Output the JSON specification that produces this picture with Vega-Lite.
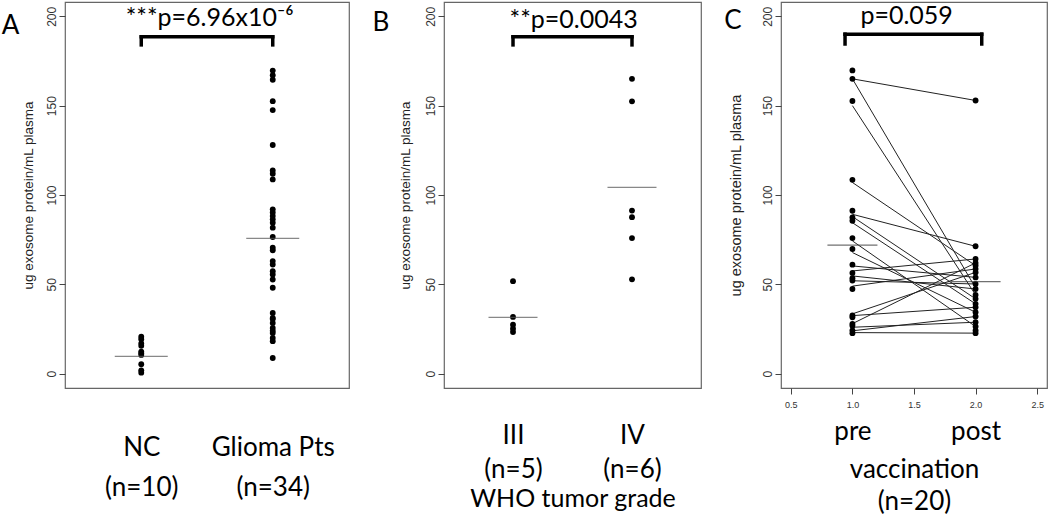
{
  "$schema": "https://vega.github.io/schema/vega-lite/v6.json",
  "background": "white",
  "padding": {"left": 1, "top": 1, "right": 2, "bottom": 0},
  "spacing": 21,
  "config": {
    "view": {"stroke": "#666", "strokeWidth": 1.2},
    "axis": {"grid": false, "domain": false, "labelFont": "Liberation Sans", "titleFont": "Liberation Sans", "labelColor": "#333", "titleColor": "#222", "tickColor": "#444", "titleFontWeight": "normal"},
    "axisY": {"labelAngle": -90, "labelAlign": "center", "labelBaseline": "bottom", "labelFontSize": 12, "tickSize": 6, "labelPadding": 1, "titleFontSize": 13.5}
  },
  "datasets": {
    "A_points": [
      {"group": "NC", "idx": 1, "value": 20.7}, {"group": "NC", "idx": 1, "value": 19.3}, {"group": "NC", "idx": 1, "value": 16.9}, {"group": "NC", "idx": 1, "value": 15.6}, {"group": "NC", "idx": 1, "value": 12.4},
      {"group": "NC", "idx": 1, "value": 11.5}, {"group": "NC", "idx": 1, "value": 10.5}, {"group": "NC", "idx": 1, "value": 5.3}, {"group": "NC", "idx": 1, "value": 1.9}, {"group": "NC", "idx": 1, "value": 0.6},
      {"group": "Glioma Pts", "idx": 2, "value": 169.6}, {"group": "Glioma Pts", "idx": 2, "value": 167.0}, {"group": "Glioma Pts", "idx": 2, "value": 164.5}, {"group": "Glioma Pts", "idx": 2, "value": 152.5},
      {"group": "Glioma Pts", "idx": 2, "value": 147.5}, {"group": "Glioma Pts", "idx": 2, "value": 128.0}, {"group": "Glioma Pts", "idx": 2, "value": 113.7}, {"group": "Glioma Pts", "idx": 2, "value": 111.9},
      {"group": "Glioma Pts", "idx": 2, "value": 108.7}, {"group": "Glioma Pts", "idx": 2, "value": 92.0}, {"group": "Glioma Pts", "idx": 2, "value": 90.2}, {"group": "Glioma Pts", "idx": 2, "value": 88.3},
      {"group": "Glioma Pts", "idx": 2, "value": 86.4}, {"group": "Glioma Pts", "idx": 2, "value": 84.5}, {"group": "Glioma Pts", "idx": 2, "value": 81.7}, {"group": "Glioma Pts", "idx": 2, "value": 76.5},
      {"group": "Glioma Pts", "idx": 2, "value": 70.5}, {"group": "Glioma Pts", "idx": 2, "value": 69.1}, {"group": "Glioma Pts", "idx": 2, "value": 63.0}, {"group": "Glioma Pts", "idx": 2, "value": 61.1},
      {"group": "Glioma Pts", "idx": 2, "value": 57.4}, {"group": "Glioma Pts", "idx": 2, "value": 55.5}, {"group": "Glioma Pts", "idx": 2, "value": 52.7}, {"group": "Glioma Pts", "idx": 2, "value": 48.1},
      {"group": "Glioma Pts", "idx": 2, "value": 34.0}, {"group": "Glioma Pts", "idx": 2, "value": 31.2}, {"group": "Glioma Pts", "idx": 2, "value": 30.6}, {"group": "Glioma Pts", "idx": 2, "value": 28.4},
      {"group": "Glioma Pts", "idx": 2, "value": 25.6}, {"group": "Glioma Pts", "idx": 2, "value": 24.0}, {"group": "Glioma Pts", "idx": 2, "value": 22.8}, {"group": "Glioma Pts", "idx": 2, "value": 20.0},
      {"group": "Glioma Pts", "idx": 2, "value": 18.2}, {"group": "Glioma Pts", "idx": 2, "value": 8.8}
    ],
    "A_means": [{"group": "NC", "idx": 1, "mean": 9.7}, {"group": "Glioma Pts", "idx": 2, "mean": 75.7}],
    "B_points": [
      {"grade": "III", "idx": 1, "value": 51.8}, {"grade": "III", "idx": 1, "value": 31.8}, {"grade": "III", "idx": 1, "value": 27.4}, {"grade": "III", "idx": 1, "value": 25.2}, {"grade": "III", "idx": 1, "value": 23.3},
      {"grade": "IV", "idx": 2, "value": 165.0}, {"grade": "IV", "idx": 2, "value": 152.4}, {"grade": "IV", "idx": 2, "value": 91.3}, {"grade": "IV", "idx": 2, "value": 87.6}, {"grade": "IV", "idx": 2, "value": 75.9}, {"grade": "IV", "idx": 2, "value": 52.8}
    ],
    "B_means": [{"grade": "III", "idx": 1, "mean": 31.5}, {"grade": "IV", "idx": 2, "mean": 104.3}],
    "C_points": [
      {"time": 1, "value": 169.7}, {"time": 1, "value": 165.0}, {"time": 1, "value": 152.6}, {"time": 1, "value": 108.5}, {"time": 1, "value": 91.2},
      {"time": 1, "value": 87.4}, {"time": 1, "value": 85.6}, {"time": 1, "value": 75.9}, {"time": 1, "value": 69.8}, {"time": 1, "value": 61.0},
      {"time": 1, "value": 56.4}, {"time": 1, "value": 53.4}, {"time": 1, "value": 52.1}, {"time": 1, "value": 47.4}, {"time": 1, "value": 32.6},
      {"time": 1, "value": 31.6}, {"time": 1, "value": 27.9}, {"time": 1, "value": 26.9}, {"time": 1, "value": 24.2}, {"time": 1, "value": 22.7},
      {"time": 2, "value": 152.9}, {"time": 2, "value": 71.3}, {"time": 2, "value": 64.2}, {"time": 2, "value": 62.0}, {"time": 2, "value": 60.5},
      {"time": 2, "value": 58.6}, {"time": 2, "value": 56.7}, {"time": 2, "value": 53.9}, {"time": 2, "value": 50.2}, {"time": 2, "value": 47.4},
      {"time": 2, "value": 44.1}, {"time": 2, "value": 41.9}, {"time": 2, "value": 39.1}, {"time": 2, "value": 37.2}, {"time": 2, "value": 34.4},
      {"time": 2, "value": 32.0}, {"time": 2, "value": 28.8}, {"time": 2, "value": 26.4}, {"time": 2, "value": 24.2}, {"time": 2, "value": 22.7}
    ],
    "C_pairs": [
      {"pre": 165.0, "post": 152.9}, {"pre": 165.0, "post": 48.0}, {"pre": 150.0, "post": 44.1}, {"pre": 107.0, "post": 60.5},
      {"pre": 89.2, "post": 71.3}, {"pre": 87.9, "post": 41.9}, {"pre": 84.5, "post": 39.1}, {"pre": 74.3, "post": 26.4},
      {"pre": 67.8, "post": 34.4}, {"pre": 60.3, "post": 53.9}, {"pre": 57.5, "post": 64.2}, {"pre": 54.7, "post": 47.4},
      {"pre": 52.0, "post": 50.2}, {"pre": 49.0, "post": 58.6}, {"pre": 33.5, "post": 56.7}, {"pre": 32.5, "post": 37.2},
      {"pre": 28.0, "post": 62.0}, {"pre": 26.0, "post": 28.8}, {"pre": 24.0, "post": 32.0}, {"pre": 23.0, "post": 22.7}
    ],
    "C_means": [{"time": 1, "mean": 72.0}, {"time": 2, "mean": 51.5}]
  },
  "hconcat": [
    {
      "width": 284, "height": 386,
      "title": {"text": "A", "orient": "left", "anchor": "end", "angle": 0, "align": "right", "baseline": "top", "offset": -16, "dy": 11, "font": "Lato", "fontSize": 26, "fontWeight": "normal", "color": "black"},
      "layer": [
        {
          "data": {"name": "A_points"},
          "mark": {"type": "circle", "size": 34, "color": "black", "opacity": 1},
          "encoding": {
            "x": {"field": "idx", "type": "quantitative", "scale": {"domain": [0.42, 2.58], "nice": false, "zero": false},
                  "axis": {"values": [1, 2], "ticks": false, "labelExpr": "datum.value == 1 ? ['NC', '(n=10)'] : ['Glioma Pts', '(n=34)']", "labelFont": "Lato", "labelFontSize": 26, "labelColor": "black", "labelPadding": 46, "labelLineHeight": 40, "title": null}},
            "y": {"field": "value", "type": "quantitative", "scale": {"domain": [-8, 208], "nice": false, "zero": false},
                  "axis": {"values": [0, 50, 100, 150, 200], "title": "ug exosome protein/mL plasma", "titlePadding": 10}}
          }
        },
        {
          "data": {"name": "A_means"},
          "mark": {"type": "tick", "orient": "horizontal", "size": 53, "thickness": 1.3, "color": "#555"},
          "encoding": {
            "x": {"field": "idx", "type": "quantitative"},
            "y": {"field": "mean", "type": "quantitative"}
          }
        },
        {
          "data": {"values": [{}]},
          "mark": {"type": "rule", "strokeWidth": 3.5, "color": "black", "strokeCap": "square"},
          "encoding": {"x": {"datum": 1, "type": "quantitative"}, "x2": {"datum": 2}, "y": {"datum": 188.5, "type": "quantitative"}}
        },
        {
          "data": {"values": [{"end": 1}, {"end": 2}]},
          "mark": {"type": "rule", "strokeWidth": 3.5, "color": "black", "strokeCap": "square"},
          "encoding": {"x": {"field": "end", "type": "quantitative"}, "y": {"datum": 188.5, "type": "quantitative"}, "y2": {"datum": 184}}
        },
        {
          "data": {"values": [{"label": "***p=6.96x10⁻⁶"}]},
          "mark": {"type": "text", "font": "Lato", "fontSize": 25, "color": "black", "baseline": "middle", "align": "center"},
          "encoding": {"x": {"datum": 1.52, "type": "quantitative"}, "y": {"datum": 199, "type": "quantitative"}, "text": {"field": "label"}}
        }
      ]
    },
    {
      "width": 257, "height": 386,
      "title": {"text": "B", "orient": "left", "anchor": "end", "angle": 0, "align": "right", "baseline": "top", "offset": -8, "dy": 8, "font": "Lato", "fontSize": 26, "fontWeight": "normal", "color": "black"},
      "layer": [
        {
          "data": {"name": "B_points"},
          "mark": {"type": "circle", "size": 34, "color": "black", "opacity": 1},
          "encoding": {
            "x": {"field": "idx", "type": "quantitative", "scale": {"domain": [0.42, 2.58], "nice": false, "zero": false},
                  "axis": {"values": [1, 2], "ticks": false, "labelExpr": "datum.value == 1 ? ['III', '(n=5)'] : ['IV', '(n=6)']", "labelFont": "Lato", "labelFontSize": 26, "labelColor": "black", "labelPadding": 34, "labelLineHeight": 34, "title": "WHO tumor grade", "titleFont": "Lato", "titleFontSize": 25, "titleColor": "black", "titlePadding": 4}},
            "y": {"field": "value", "type": "quantitative", "scale": {"domain": [-8, 208], "nice": false, "zero": false},
                  "axis": {"values": [0, 50, 100, 150, 200], "title": "ug exosome protein/mL plasma", "titlePadding": 12}}
          }
        },
        {
          "data": {"name": "B_means"},
          "mark": {"type": "tick", "orient": "horizontal", "size": 49, "thickness": 1.3, "color": "#555"},
          "encoding": {
            "x": {"field": "idx", "type": "quantitative"},
            "y": {"field": "mean", "type": "quantitative"}
          }
        },
        {
          "data": {"values": [{}]},
          "mark": {"type": "rule", "strokeWidth": 3.5, "color": "black", "strokeCap": "square"},
          "encoding": {"x": {"datum": 1, "type": "quantitative"}, "x2": {"datum": 2}, "y": {"datum": 188.5, "type": "quantitative"}}
        },
        {
          "data": {"values": [{"end": 1}, {"end": 2}]},
          "mark": {"type": "rule", "strokeWidth": 3.5, "color": "black", "strokeCap": "square"},
          "encoding": {"x": {"field": "end", "type": "quantitative"}, "y": {"datum": 188.5, "type": "quantitative"}, "y2": {"datum": 184}}
        },
        {
          "data": {"values": [{"label": "**p=0.0043"}]},
          "mark": {"type": "text", "font": "Lato", "fontSize": 25, "color": "black", "baseline": "middle", "align": "center"},
          "encoding": {"x": {"datum": 1.51, "type": "quantitative"}, "y": {"datum": 198, "type": "quantitative"}, "text": {"field": "label"}}
        }
      ]
    },
    {
      "width": 266, "height": 386,
      "title": {"text": "C", "orient": "left", "anchor": "end", "angle": 0, "align": "right", "baseline": "top", "offset": -31, "dy": 6, "font": "Lato", "fontSize": 26, "fontWeight": "normal", "color": "black"},
      "resolve": {"axis": {"x": "independent"}},
      "layer": [
        {
          "data": {"name": "C_pairs"},
          "mark": {"type": "rule", "strokeWidth": 1, "color": "#222"},
          "encoding": {
            "x": {"datum": 1, "type": "quantitative", "scale": {"domain": [0.42, 2.58], "nice": false, "zero": false}, "axis": null},
            "x2": {"datum": 2},
            "y": {"field": "pre", "type": "quantitative", "scale": {"domain": [-8, 208], "nice": false, "zero": false}},
            "y2": {"field": "post"}
          }
        },
        {
          "data": {"name": "C_points"},
          "mark": {"type": "circle", "size": 34, "color": "black", "opacity": 1},
          "encoding": {
            "x": {"field": "time", "type": "quantitative", "scale": {"domain": [0.42, 2.58], "nice": false, "zero": false},
                  "axis": {"orient": "bottom", "values": [0.5, 1, 1.5, 2, 2.5], "format": ".1f", "tickSize": 6, "labelFontSize": 9, "labelPadding": 6, "title": null}},
            "y": {"field": "value", "type": "quantitative", "scale": {"domain": [-8, 208], "nice": false, "zero": false},
                  "axis": {"values": [0, 50, 100, 150, 200], "title": "ug exosome protein/mL plasma", "titleFontSize": 14.5, "titlePadding": 18}}
          }
        },
        {
          "data": {"name": "C_means"},
          "mark": {"type": "tick", "orient": "horizontal", "size": 50, "thickness": 1.3, "color": "#333"},
          "encoding": {
            "x": {"field": "time", "type": "quantitative", "scale": {"domain": [0.42, 2.58], "nice": false, "zero": false},
                  "axis": {"orient": "bottom", "offset": 30, "values": [1, 2], "ticks": false, "labelExpr": "datum.value == 1 ? 'pre' : 'post'", "labelFont": "Lato", "labelFontSize": 26, "labelColor": "black", "labelPadding": 0, "title": ["vaccination", "(n=20)"], "titleFont": "Lato", "titleFontSize": 26, "titleColor": "black", "titleLineHeight": 32, "titlePadding": 12}},
            "y": {"field": "mean", "type": "quantitative"}
          }
        },
        {
          "data": {"values": [{}]},
          "mark": {"type": "rule", "strokeWidth": 3.5, "color": "black", "strokeCap": "square"},
          "encoding": {"x": {"datum": 0.94, "type": "quantitative", "axis": null}, "x2": {"datum": 2.05}, "y": {"datum": 190, "type": "quantitative"}}
        },
        {
          "data": {"values": [{"end": 0.94}, {"end": 2.05}]},
          "mark": {"type": "rule", "strokeWidth": 3.5, "color": "black", "strokeCap": "square"},
          "encoding": {"x": {"field": "end", "type": "quantitative", "axis": null}, "y": {"datum": 190, "type": "quantitative"}, "y2": {"datum": 184.5}}
        },
        {
          "data": {"values": [{"label": "p=0.059"}]},
          "mark": {"type": "text", "font": "Lato", "fontSize": 25, "color": "black", "baseline": "middle", "align": "center"},
          "encoding": {"x": {"datum": 1.44, "type": "quantitative", "axis": null}, "y": {"datum": 200, "type": "quantitative"}, "text": {"field": "label"}}
        }
      ]
    }
  ]
}
